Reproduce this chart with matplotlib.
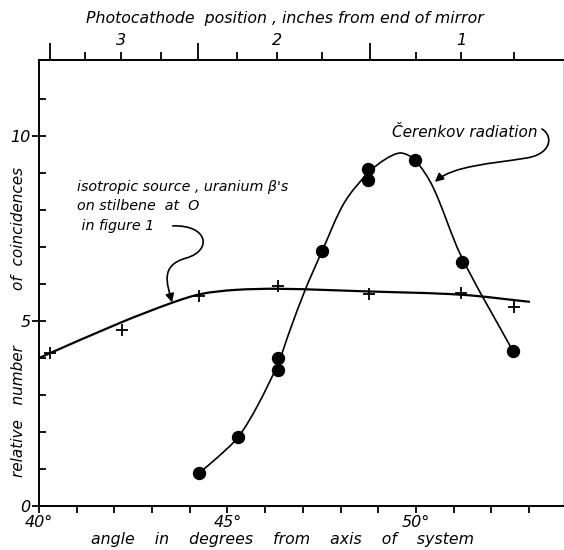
import numpy as np
import matplotlib
matplotlib.use("Agg")
import matplotlib.pyplot as plt
from matplotlib.path import Path
from matplotlib.patches import PathPatch, FancyArrowPatch

# photocathode positions (top scale) and the angles they sit at
inches = [3.5, 3.25, 3.0, 2.75, 2.5, 2.25, 2.0, 1.75, 1.5, 1.25, 1.0, 0.75]
inch_angle = [40.3, 41.22, 42.18, 43.24, 44.22, 45.25, 46.31, 47.51, 48.78, 50.0, 51.19, 52.6]

# isotropic source, uranium beta's on stilbene (crosses)
iso_angle = [40.3, 42.2, 44.25, 46.35, 48.75, 51.2, 52.6]
iso_count = [4.13, 4.76, 5.68, 5.95, 5.73, 5.76, 5.38]

# Cerenkov radiation (dots)
cer_angle = [44.25, 45.28, 46.34, 46.34, 47.51, 48.73, 48.73, 49.97, 51.22, 52.57]
cer_count = [0.89, 1.86, 3.68, 4.0, 6.89, 8.81, 9.11, 9.35, 6.59, 4.19]

# hand drawn curves
iso_fit_x = [40.0, 42.15, 43.55, 44.3, 45.2, 46.4, 48.7, 51.2, 53.0]
iso_fit_y = [4.0, 4.95, 5.5, 5.73, 5.84, 5.87, 5.8, 5.71, 5.52]
cer_fit_x = [44.24, 44.72, 45.28, 45.78, 46.34, 46.66, 47.06, 47.51, 48.1, 48.73,
             49.2, 49.6, 49.97, 50.45, 51.2, 52.57]
cer_fit_y = [0.89, 1.30, 1.86, 2.68, 3.85, 4.76, 5.84, 6.89, 8.2, 9.0,
             9.38, 9.54, 9.35, 8.62, 6.75, 4.19]

FONT = dict(family="DejaVu Sans", style="oblique")


def smooth_path(xs, ys):
    # cubic Bezier curve through the traced points, chord-length tangents
    p = np.column_stack([xs, ys])
    d = np.hypot(*np.diff(p, axis=0).T)
    t = np.concatenate([[0], np.cumsum(d)])
    m = np.empty_like(p)
    m[1:-1] = (p[2:] - p[:-2]) / (t[2:] - t[:-2])[:, None]
    m[0] = (p[1] - p[0]) / d[0]
    m[-1] = (p[-1] - p[-2]) / d[-1]
    verts = [p[0]]
    codes = [Path.MOVETO]
    for i in range(len(p) - 1):
        verts += [p[i] + m[i] * d[i] / 3, p[i + 1] - m[i + 1] * d[i] / 3, p[i + 1]]
        codes += [Path.CURVE4] * 3
    return Path(verts, codes)


fig = plt.figure(figsize=(5.64, 5.5), dpi=100)
ax = fig.add_axes([39 / 564, 44 / 550, 524 / 564, 446 / 550])
ax.set_xlim(40, 40 + 524 / 37.7)
ax.set_ylim(0, 446 / 37)

for s in ["left", "bottom", "top"]:
    ax.spines[s].set_linewidth(1.4)
ax.spines["right"].set_color("#d0d0d0")
ax.spines["right"].set_linewidth(0.8)

# bottom axis: degrees
ax.set_xticks([40, 45, 50])
ax.set_xticklabels(["40°", "45°", "50°"], fontdict=dict(size=11.5, **FONT))
ax.set_xticks(np.arange(41, 54), minor=True)
ax.tick_params(axis="x", which="both", direction="out", length=5, width=1.3, pad=1.5)

# left axis
ax.set_yticks([0, 5, 10])
ax.set_yticklabels(["0", "5", "10"], fontdict=dict(size=11.5, **FONT))
ax.set_yticks(np.arange(1, 12), minor=True)
ax.tick_params(axis="y", which="major", direction="inout", length=10, width=1.3, pad=1)
ax.tick_params(axis="y", which="minor", direction="in", length=5, width=1.3)

# top axis: photocathode position
ax2 = ax.twiny()
ax2.set_xlim(ax.get_xlim())
tall = [a for a, i in zip(inch_angle, inches) if i in (3.5, 2.5, 1.5)]
short = [a for a, i in zip(inch_angle, inches) if i not in (3.5, 2.5, 1.5)]
short_lab = [f"{i:g}" if i == int(i) else "" for i in inches if i not in (3.5, 2.5, 1.5)]
ax2.set_xticks(short)
ax2.set_xticklabels(short_lab, fontdict=dict(size=11.5, **FONT))
ax2.set_xticks(tall, minor=True)
ax2.tick_params(axis="x", which="major", direction="out", length=5.5, width=1.3, pad=3)
ax2.tick_params(axis="x", which="minor", direction="out", length=12, width=1.3)
for s in ax2.spines.values():
    s.set_visible(False)

ax2.set_xlabel("Photocathode  position , inches from end of mirror", fontsize=11.3, **FONT)
ax2.xaxis.set_label_coords(0.469, 1.094)
ax2.xaxis.label.set_va("center")

ax.set_xlabel("angle    in    degrees    from    axis    of    system", fontsize=11.3, **FONT)
ax.xaxis.set_label_coords(0.464, -0.076)
ax.xaxis.label.set_va("center")

ax.text(-0.040, 0.623, "of  coincidences", transform=ax.transAxes, rotation=90,
        ha="center", va="center", fontsize=11, **FONT)
ax.text(-0.040, 0.213, "relative   number", transform=ax.transAxes, rotation=90,
        ha="center", va="center", fontsize=11, **FONT)

# curves
ax.add_patch(PathPatch(smooth_path(iso_fit_x, iso_fit_y), fill=False, ec="black",
                       lw=1.6, capstyle="round", joinstyle="round"))
ax.add_patch(PathPatch(smooth_path(cer_fit_x, cer_fit_y), fill=False, ec="black",
                       lw=1.2, capstyle="round", joinstyle="round"))

ax.plot(iso_angle, iso_count, ls="none", marker="+", ms=8.5, mew=1.3, color="black")
ax.plot(cer_angle, cer_count, ls="none", marker="o", ms=8.6, color="black")

# annotations
ax.text(41.0, 8.82, "isotropic source , uranium β's\non stilbene  at  O\n in figure 1",
        ha="left", va="top", fontsize=10.3, linespacing=1.5, **FONT)
ax.text(49.36, 10.1, "Čerenkov radiation", ha="left", va="center", fontsize=11, **FONT)

iso_arrow = Path([(43.55, 7.57), (44.5, 7.6), (44.6, 6.9), (43.9, 6.7),
                  (43.2, 6.5), (43.4, 6.0), (43.53, 5.5)],
                 [Path.MOVETO] + [Path.CURVE4] * 6)
cer_arrow = Path([(53.34, 10.19), (53.65, 10.0), (53.6, 9.5), (52.9, 9.4),
                  (52.0, 9.25), (51.0, 9.2), (50.5, 8.76)],
                 [Path.MOVETO] + [Path.CURVE4] * 6)
for p in (iso_arrow, cer_arrow):
    ax.add_patch(FancyArrowPatch(path=p, transform=ax.transData,
                                 arrowstyle="-|>,head_length=5,head_width=2.5",
                                 lw=1.2, color="black"))

fig.savefig("out.png", dpi=100)
